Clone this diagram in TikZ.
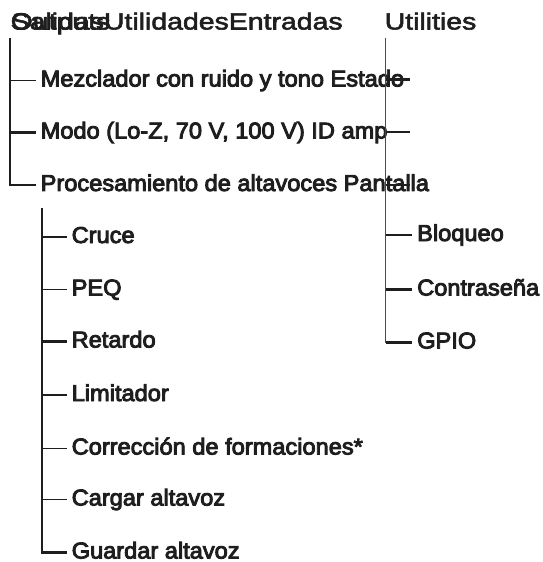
\documentclass[tikz,border=0pt]{standalone}
\usepackage{fontspec}
\setmainfont{Liberation Sans}
\newfontfamily\headfont[FakeStretch=1.22,FakeBold=2.5]{Liberation Sans}
\newfontfamily\bodyfont[FakeBold=4,FakeStretch=1.03]{Liberation Sans}
\definecolor{ink}{HTML}{1E1E1E}
\tikzset{
  head/.style={anchor=base west, inner sep=0pt, text=ink, font=\headfont\fontsize{23.4}{28}\selectfont},
  item/.style={anchor=west, inner xsep=5bp, inner ysep=0pt, text height=12bp, text depth=0pt, text=ink, font=\bodyfont\fontsize{23}{27}\selectfont},
  thin/.style={draw=ink, line width=1.2bp},
  thick/.style={draw=ink, line width=2.3bp},
  trunk/.style={draw=ink, line width=1.8bp},
  rtrunk/.style={draw=ink!80, line width=1.1bp}
}
\begin{document}
\begin{tikzpicture}[x=1bp,y=-1bp]
\useasboundingbox (0,0) rectangle (543,562);
% headers
\node[head] (outputs) at (10.5,29.5) {Outputs};
\node[head] (spanish) at (10.5,29.5) {SalidasUtilidadesEntradas};
\node[head] (utilities) at (384.5,29.5) {Utilities};

% top-level tree
\coordinate (t1top) at (10,38);
\node[item] (mez) at (35.5,80.5) {Mezclador con ruido y tono Estado};
\node[item] (modo) at (35.5,132.5) {Modo (Lo-Z, 70 V, 100 V) ID amp};
\node[item] (proc) at (35.5,185) {Procesamiento de altavoces Pantalla};
\draw[trunk] (t1top) -- (t1top |- proc.west) -- (proc.west);
\draw[thin] (t1top |- mez.west) -- (mez.west);
\draw[thick] (t1top |- modo.west) -- (modo.west);

% second-level tree
\coordinate (t2top) at (41.7,208);
\node[item] (cruce) at (66.5,237) {Cruce};
\node[item] (peq) at (66.5,289.5) {PEQ};
\node[item] (ret) at (66.5,341.5) {Retardo};
\node[item] (lim) at (66.5,395) {Limitador};
\node[item] (corr) at (66.5,448.5) {Corrección de formaciones*};
\node[item] (carg) at (66.5,499.5) {Cargar altavoz};
\node[item] (guar) at (66.5,552.5) {Guardar altavoz};
\draw[line width=2.1bp, draw=ink] (t2top) -- (t2top |- guar.west) -- (guar.west);
\draw[thick] (t2top |- cruce.west) -- (cruce.west);
\draw[thin] (t2top |- peq.west) -- (peq.west);
\draw[thick] (t2top |- ret.west) -- (ret.west);
\draw[thick] (t2top |- lim.west) -- (lim.west);
\draw[thin] (t2top |- corr.west) -- (corr.west);
\draw[thin] (t2top |- carg.west) -- (carg.west);

% utilities tree
\coordinate (t3top) at (385.5,38);
\coordinate (u1) at (410,79.5);
\coordinate (u2) at (410,132);
\coordinate (u3) at (410,185);
\node[item] (bloq) at (412,235) {Bloqueo};
\node[item] (pass) at (412,289.5) {Contraseña};
\node[item] (gpio) at (412,342.5) {GPIO};
\draw[rtrunk] (t3top) -- (t3top |- gpio.west);
\draw[thick] (t3top |- gpio.west) -- (gpio.west);
\draw[thick] (t3top |- u1) -- (u1);
\draw[thick] (t3top |- u2) -- (u2);
\draw[thick] (t3top |- u3) -- (u3);
\draw[thick] (t3top |- bloq.west) -- (bloq.west);
\draw[thick] (t3top |- pass.west) -- (pass.west);
\end{tikzpicture}
\end{document}
